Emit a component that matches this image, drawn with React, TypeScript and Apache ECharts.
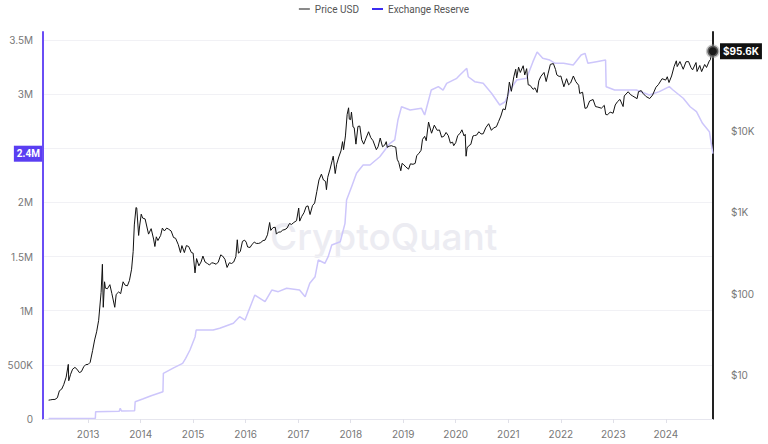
import React, { useEffect, useRef } from "react";
import * as echarts from "echarts";

// Bitcoin price (USD), [date, value]
const priceData: [string, number][] = [
  ["2012-04-01", 4.9], ["2012-04-15", 4.95], ["2012-05-01", 5.0], ["2012-05-15", 5.0], ["2012-06-01", 5.25], ["2012-06-15", 6.4],
  ["2012-07-01", 6.7], ["2012-07-15", 7.6], ["2012-08-01", 9.4], ["2012-08-16", 13.5], ["2012-08-19", 8.5], ["2012-09-01", 10.2],
  ["2012-09-15", 11.8], ["2012-10-01", 12.4], ["2012-10-15", 11.8], ["2012-11-01", 10.7], ["2012-11-15", 11.0], ["2012-12-01", 12.6],
  ["2012-12-15", 13.4],
  ["2013-01-01", 13.5], ["2013-01-15", 14.3], ["2013-02-01", 20], ["2013-02-15", 27], ["2013-03-01", 34], ["2013-03-15", 47],
  ["2013-04-01", 104], ["2013-04-10", 230], ["2013-04-16", 68], ["2013-04-25", 140], ["2013-05-01", 117], ["2013-05-15", 115],
  ["2013-06-01", 129], ["2013-06-15", 100], ["2013-07-05", 68], ["2013-07-15", 98], ["2013-08-01", 105], ["2013-08-15", 100],
  ["2013-09-01", 140], ["2013-09-15", 127], ["2013-10-01", 125], ["2013-10-15", 145], ["2013-10-30", 200], ["2013-11-10", 330],
  ["2013-11-18", 700], ["2013-11-30", 1150], ["2013-12-05", 1130], ["2013-12-18", 520], ["2013-12-25", 680],
  ["2014-01-05", 950], ["2014-01-15", 850], ["2014-02-01", 830], ["2014-02-25", 540], ["2014-03-15", 630], ["2014-04-01", 470],
  ["2014-04-10", 380], ["2014-04-20", 500], ["2014-05-01", 450], ["2014-05-20", 520], ["2014-06-01", 640], ["2014-06-15", 590],
  ["2014-07-01", 640], ["2014-07-15", 620], ["2014-08-01", 590], ["2014-08-18", 490], ["2014-09-01", 480], ["2014-09-20", 400],
  ["2014-10-05", 320], ["2014-10-15", 390], ["2014-11-01", 320], ["2014-11-15", 390], ["2014-12-01", 380], ["2014-12-20", 320],
  ["2015-01-01", 315], ["2015-01-14", 180], ["2015-01-25", 270], ["2015-02-10", 220], ["2015-02-25", 245], ["2015-03-10", 290],
  ["2015-03-25", 245], ["2015-04-10", 235], ["2015-04-25", 225], ["2015-05-10", 240], ["2015-05-25", 237], ["2015-06-10", 230],
  ["2015-06-25", 245], ["2015-07-12", 300], ["2015-07-25", 290], ["2015-08-10", 265], ["2015-08-25", 210], ["2015-09-10", 240],
  ["2015-09-25", 235], ["2015-10-10", 245], ["2015-10-25", 285], ["2015-11-04", 460], ["2015-11-12", 315], ["2015-11-25", 330],
  ["2015-12-10", 440], ["2015-12-25", 455],
  ["2016-01-05", 430], ["2016-01-15", 375], ["2016-02-01", 370], ["2016-02-15", 405], ["2016-03-01", 430], ["2016-03-15", 415],
  ["2016-04-01", 415], ["2016-04-15", 425], ["2016-05-01", 450], ["2016-05-15", 455], ["2016-06-01", 530], ["2016-06-16", 750],
  ["2016-06-24", 600], ["2016-07-10", 650], ["2016-07-25", 655], ["2016-08-02", 540], ["2016-08-15", 570], ["2016-09-01", 575],
  ["2016-09-15", 605], ["2016-10-01", 615], ["2016-10-15", 640], ["2016-11-01", 730], ["2016-11-15", 710], ["2016-12-01", 750],
  ["2016-12-20", 790],
  ["2017-01-04", 1130], ["2017-01-11", 780], ["2017-01-25", 890], ["2017-02-10", 990], ["2017-02-25", 1180], ["2017-03-10", 1200],
  ["2017-03-24", 940], ["2017-04-10", 1210], ["2017-04-25", 1300], ["2017-05-10", 1800], ["2017-05-25", 2500], ["2017-06-11", 2950],
  ["2017-06-25", 2500], ["2017-07-10", 2400], ["2017-07-16", 1900], ["2017-07-25", 2700], ["2017-08-10", 3400], ["2017-08-25", 4350],
  ["2017-09-01", 4900], ["2017-09-15", 3000], ["2017-09-25", 3900], ["2017-10-10", 4800], ["2017-10-25", 5700], ["2017-11-05", 7400],
  ["2017-11-12", 5900], ["2017-11-25", 8700], ["2017-12-07", 16000], ["2017-12-17", 19300], ["2017-12-22", 14000], ["2017-12-31", 13800],
  ["2018-01-06", 17100], ["2018-01-17", 11200], ["2018-01-25", 11000], ["2018-02-06", 6900], ["2018-02-20", 11400], ["2018-03-05", 11500],
  ["2018-03-18", 7800], ["2018-04-01", 6900], ["2018-04-15", 8000], ["2018-05-05", 9800], ["2018-05-20", 8300], ["2018-06-05", 7600],
  ["2018-06-28", 5900], ["2018-07-10", 6400], ["2018-07-25", 8200], ["2018-08-10", 6400], ["2018-08-25", 6700], ["2018-09-05", 7400],
  ["2018-09-12", 6300], ["2018-09-25", 6500], ["2018-10-10", 6600], ["2018-10-25", 6450], ["2018-11-10", 6350], ["2018-11-20", 4500],
  ["2018-12-01", 4100], ["2018-12-15", 3250], ["2018-12-24", 4000],
  ["2019-01-05", 3850], ["2019-01-20", 3600], ["2019-02-07", 3400], ["2019-02-20", 3950], ["2019-03-10", 3900], ["2019-03-25", 4000],
  ["2019-04-05", 5000], ["2019-04-20", 5300], ["2019-05-05", 5800], ["2019-05-15", 7900], ["2019-05-30", 8600], ["2019-06-10", 7600],
  ["2019-06-26", 12900], ["2019-07-05", 11200], ["2019-07-17", 9400], ["2019-08-05", 11800], ["2019-08-25", 10200], ["2019-09-10", 10300],
  ["2019-09-25", 8400], ["2019-10-10", 8600], ["2019-10-26", 9600], ["2019-11-10", 8800], ["2019-11-25", 7100], ["2019-12-10", 7300],
  ["2019-12-18", 6600],
  ["2020-01-01", 7200], ["2020-01-15", 8800], ["2020-02-01", 9400], ["2020-02-13", 10350], ["2020-02-28", 8700], ["2020-03-07", 9100],
  ["2020-03-13", 4900], ["2020-03-20", 6200], ["2020-04-01", 6600], ["2020-04-15", 6850], ["2020-04-30", 8700], ["2020-05-10", 8800],
  ["2020-05-25", 8900], ["2020-06-10", 9800], ["2020-06-25", 9200], ["2020-07-10", 9250], ["2020-07-28", 11000], ["2020-08-17", 12300],
  ["2020-09-05", 10200], ["2020-09-20", 10900], ["2020-10-10", 11300], ["2020-10-25", 13100], ["2020-11-10", 15300], ["2020-11-25", 18700],
  ["2020-12-10", 18300], ["2020-12-27", 26500],
  ["2021-01-08", 40000], ["2021-01-22", 30800], ["2021-02-08", 46500], ["2021-02-21", 57500], ["2021-02-28", 45000], ["2021-03-13", 61000],
  ["2021-03-25", 52500], ["2021-04-14", 63500], ["2021-04-25", 49000], ["2021-05-08", 58500], ["2021-05-19", 37000], ["2021-06-01", 36500],
  ["2021-06-22", 32500], ["2021-07-05", 34000], ["2021-07-20", 29800], ["2021-08-01", 41500], ["2021-08-15", 47000], ["2021-09-06", 52500],
  ["2021-09-21", 40600], ["2021-10-05", 51500], ["2021-10-20", 66000], ["2021-11-10", 67500], ["2021-11-25", 57200], ["2021-12-04", 49000],
  ["2021-12-20", 46900],
  ["2022-01-01", 47500], ["2022-01-22", 35000], ["2022-02-10", 44000], ["2022-02-24", 37000], ["2022-03-10", 39000], ["2022-03-29", 47500],
  ["2022-04-15", 40500], ["2022-05-05", 36500], ["2022-05-12", 29000], ["2022-06-01", 30000], ["2022-06-18", 19000], ["2022-07-01", 19300],
  ["2022-07-20", 23400], ["2022-08-13", 24400], ["2022-08-30", 20000], ["2022-09-15", 19700], ["2022-10-10", 19100], ["2022-10-30", 20700],
  ["2022-11-09", 16000], ["2022-11-21", 15800], ["2022-12-10", 17100], ["2022-12-30", 16550],
  ["2023-01-14", 20900], ["2023-01-30", 23000], ["2023-02-16", 24500], ["2023-03-10", 20000], ["2023-03-18", 27000], ["2023-04-14", 30400],
  ["2023-05-01", 28000], ["2023-05-15", 27000], ["2023-06-15", 25000], ["2023-06-25", 30500], ["2023-07-14", 31400], ["2023-07-25", 29200],
  ["2023-08-17", 26500], ["2023-09-11", 25100], ["2023-10-01", 27700], ["2023-10-24", 34500], ["2023-11-10", 37200], ["2023-12-06", 44000],
  ["2023-12-31", 42300],
  ["2024-01-11", 46500], ["2024-01-23", 39500], ["2024-02-10", 47500], ["2024-02-28", 62500], ["2024-03-14", 73000], ["2024-03-20", 62000],
  ["2024-04-08", 71500], ["2024-04-20", 63800], ["2024-05-01", 57500], ["2024-05-20", 71000], ["2024-06-07", 71500], ["2024-06-24", 60300],
  ["2024-07-05", 56500], ["2024-07-29", 69500], ["2024-08-05", 54000], ["2024-08-24", 64000], ["2024-09-06", 53800], ["2024-09-27", 65800],
  ["2024-10-10", 60500], ["2024-10-29", 72500], ["2024-11-06", 75500], ["2024-11-12", 88000], ["2024-11-18", 90500], ["2024-11-23", 95600],
];

// Exchange reserve (BTC), [date, value]
const reserveData: [string, number][] = [
  ["2012-04-01", 5000], ["2013-02-20", 6000], ["2013-02-22", 67000], ["2013-08-05", 72000], ["2013-08-12", 100000], ["2013-08-20", 75000],
  ["2013-11-20", 77000], ["2013-11-24", 160000], ["2014-01-15", 185000], ["2014-03-15", 215000], ["2014-06-05", 252000], ["2014-06-08", 422000],
  ["2014-08-15", 470000], ["2014-10-20", 514000], ["2014-11-10", 560000], ["2014-12-10", 637000], ["2015-01-15", 760000], ["2015-01-22", 822000],
  ["2015-05-20", 822000], ["2015-07-05", 838000], ["2015-10-08", 884000], ["2015-11-20", 945000], ["2015-12-28", 914000], ["2016-03-05", 1145000],
  ["2016-05-15", 1083000], ["2016-07-01", 1191000], ["2016-08-15", 1176000], ["2016-10-12", 1207000], ["2017-01-10", 1191000], ["2017-02-18", 1129000],
  ["2017-03-22", 1253000], ["2017-04-28", 1314000], ["2017-05-20", 1468000], ["2017-07-05", 1438000], ["2017-07-28", 1499000], ["2017-08-22", 1607000],
  ["2017-10-20", 1637000], ["2017-11-22", 1807000], ["2017-12-03", 2022000], ["2018-01-07", 2145000], ["2018-02-10", 2269000], ["2018-03-28", 2346000],
  ["2018-05-15", 2346000], ["2018-07-22", 2422000], ["2018-10-01", 2546000], ["2018-11-03", 2577000], ["2018-11-25", 2761000], ["2018-12-20", 2884000],
  ["2019-02-18", 2854000], ["2019-05-08", 2869000], ["2019-05-30", 2807000], ["2019-07-15", 3038000], ["2019-09-02", 3069000], ["2019-10-05", 3038000],
  ["2019-10-30", 3100000], ["2020-01-08", 3146000], ["2020-01-30", 3177000], ["2020-03-18", 3239000], ["2020-03-28", 3161000], ["2020-05-12", 3115000],
  ["2020-07-10", 3100000], ["2020-09-06", 3008000], ["2020-11-02", 2900000], ["2020-12-10", 2930000], ["2021-01-12", 3038000], ["2021-02-28", 3131000],
  ["2021-05-08", 3146000], ["2021-06-21", 3300000], ["2021-07-20", 3390000], ["2021-08-28", 3331000], ["2021-10-16", 3315000], ["2021-11-22", 3285000],
  ["2022-01-20", 3285000], ["2022-03-28", 3269000], ["2022-05-22", 3362000], ["2022-06-18", 3377000], ["2022-07-08", 3285000], ["2022-09-06", 3300000],
  ["2022-11-08", 3315000], ["2022-11-12", 3069000], ["2023-01-10", 3038000], ["2023-04-01", 3038000], ["2023-06-10", 3038000], ["2023-09-08", 2992000],
  ["2023-11-17", 3023000], ["2024-01-25", 3069000], ["2024-02-20", 3038000], ["2024-05-01", 2962000], ["2024-06-18", 2884000], ["2024-08-01", 2838000],
  ["2024-09-12", 2731000], ["2024-10-30", 2653000], ["2024-11-23", 2450000],
];

const legendNames = ["Price USD", "Exchange Reserve"];
const reserveTag = "2.4M";
const priceTag = "$95.6K";

const FONT = "Inter, 'Noto Sans', sans-serif";

export default function App() {
  const ref = useRef<HTMLDivElement>(null);

  useEffect(() => {
    if (!ref.current) return;
    const chart = echarts.init(ref.current, undefined, { renderer: "svg" });
    const lastPrice = priceData[priceData.length - 1];
    const lastReserve = reserveData[reserveData.length - 1];

    const leftFmt = (v: number) => {
      if (Math.abs(v % 500000) > 1) return "";
      // the 2.5M label sits under the reserve tag
      if (Math.abs(v - 2500000) < 1) return "";
      if (v === 0) return "0";
      if (v >= 1e6) return v / 1e6 + "M";
      return v / 1e3 + "K";
    };
    const rightFmt = (v: number) => {
      const p = Math.log10(v);
      const r = Math.round(p);
      if (Math.abs(p - r) > 1e-6) return "";
      if (r < 1 || r >= 5) return "";
      const val = Math.pow(10, r);
      return val >= 1000 ? "$" + val / 1000 + "K" : "$" + val;
    };

    chart.setOption({
      animation: false,
      textStyle: { fontFamily: FONT },
      legend: {
        top: -1,
        left: "center",
        icon: "rect",
        itemWidth: 11,
        itemHeight: 2,
        itemGap: 13,
        textStyle: { fontSize: 10, color: "#555", fontFamily: "Roboto, sans-serif" },
        data: [
          { name: legendNames[0], itemStyle: { color: "#8a8a8a" } },
          { name: legendNames[1], itemStyle: { color: "#3b2cf0" } },
        ],
      },
      grid: { left: 43, right: 55, top: 32, bottom: 25, containLabel: false },
      graphic: [
        {
          type: "text",
          left: 270,
          top: 218,
          z: 0,
          silent: true,
          style: {
            text: "CryptoQuant",
            fontSize: 37,
            fontWeight: 500,
            fontFamily: FONT,
            fill: "#ececf2",
          },
        },
      ],
      xAxis: {
        type: "time",
        min: new Date(2012, 1, 22).getTime(),
        max: new Date(2024, 10, 24).getTime(),
        minInterval: 365 * 86400000,
        maxInterval: 366 * 86400000,
        axisLine: { lineStyle: { color: "#e6e6ee" } },
        axisTick: { show: true, length: 4, lineStyle: { color: "#e0e0e8" } },
        axisLabel: {
          formatter: "{yyyy}",
          color: "#777",
          fontSize: 10,
          margin: 10,
          showMinLabel: false,
          showMaxLabel: false,
          fontFamily: FONT,
        },
        splitLine: { show: false },
      },
      yAxis: [
        {
          type: "value",
          position: "left",
          min: 0,
          max: 3574000,
          interval: 500000,
          axisLine: { show: true, lineStyle: { color: "#6a4df5", width: 2 } },
          axisTick: { show: false },
          axisLabel: { formatter: leftFmt, color: "#777", fontSize: 10, margin: 10, fontFamily: FONT },
          splitLine: { show: true, showMaxLine: false, lineStyle: { color: "#f1f1f5" } },
        },
        {
          type: "log",
          logBase: 10,
          position: "right",
          min: 2.876,
          max: 165100,
          axisLine: { show: true, onZero: false, lineStyle: { color: "#222", width: 2 } },
          axisTick: { show: false },
          axisLabel: { formatter: rightFmt, color: "#777", fontSize: 10, margin: 18, fontFamily: FONT },
          splitLine: { show: false },
        },
      ],
      series: [
        {
          name: legendNames[1],
          type: "line",
          yAxisIndex: 0,
          data: reserveData,
          showSymbol: false,
          symbol: "none",
          z: 2,
          lineStyle: { color: "#cdc6fb", width: 1.5 },
          itemStyle: { color: "#3b2cf0" },
          markLine: {
            silent: true,
            symbol: "none",
            lineStyle: { color: "rgba(0,0,0,0)", width: 0 },
            data: [{ yAxis: lastReserve[1] }],
            label: {
              show: true,
              position: "start",
              distance: 1,
              formatter: reserveTag,
              backgroundColor: "#5a3ef2",
              color: "#fff",
              fontSize: 10,
              fontWeight: "bold",
              padding: [3, 2, 3, 3],
              fontFamily: "Roboto, sans-serif",
            },
          },
        },
        {
          name: legendNames[0],
          type: "line",
          yAxisIndex: 1,
          data: priceData,
          showSymbol: false,
          symbol: "none",
          z: 3,
          lineStyle: { color: "#111", width: 1 },
          itemStyle: { color: "#8a8a8a" },
          markLine: {
            silent: true,
            symbol: "none",
            lineStyle: { color: "rgba(0,0,0,0)", width: 0 },
            data: [{ yAxis: lastPrice[1] }],
            label: {
              show: true,
              position: "end",
              distance: 7,
              formatter: priceTag,
              backgroundColor: "#111",
              color: "#fff",
              fontSize: 10,
              fontWeight: "bold",
              padding: [3, 3, 3, 3],
              fontFamily: FONT,
            },
          },
          markPoint: {
            silent: true,
            symbol: "circle",
            symbolSize: 11,
            itemStyle: { color: "#1a1a1a", borderColor: "rgba(150,150,150,0.5)", borderWidth: 3 },
            label: { show: false },
            data: [{ coord: [lastPrice[0], lastPrice[1]] }],
          },
        },
      ],
    });

    return () => chart.dispose();
  }, []);

  return (
    <div
      ref={ref}
      style={{ position: "fixed", left: 0, top: 0, width: 768, height: 444, background: "#fff" }}
    />
  );
}
